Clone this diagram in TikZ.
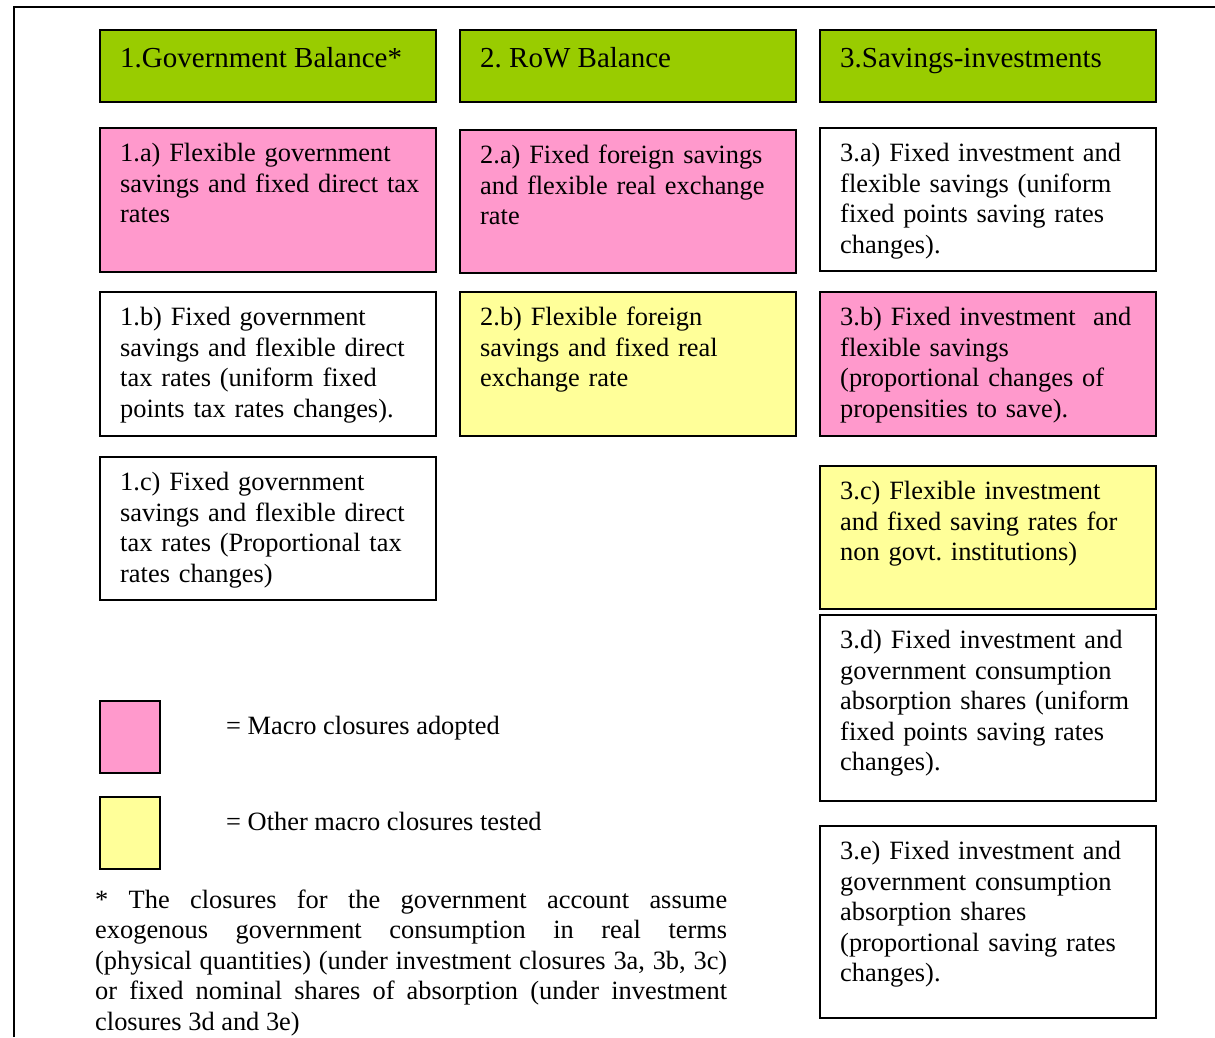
\documentclass[tikz,border=0pt]{standalone}
\usepackage{fontspec}
\setmainfont{Liberation Serif}
\frenchspacing
\definecolor{hdrgreen}{HTML}{99CC00}
\definecolor{adopted}{HTML}{FF99CC}
\definecolor{tested}{HTML}{FFFF99}
\tikzset{
  boxline/.style={draw=black, line width=1.6pt, inner sep=0pt, anchor=north west},
  cltext/.style={anchor=base west, inner sep=0pt, text width=330pt, align=left,
                 font=\fontsize{26.4}{30.5}\selectfont},
  plain/.style={anchor=base west, inner sep=0pt, font=\fontsize{26.4}{30.5}\selectfont},
  hdrtext/.style={anchor=base west, inner sep=0pt, font=\fontsize{29}{33}\selectfont}
}
% box: name, left, top, right, bottom, fill, text
\newcommand\clbox[7]{%
  \node[boxline, fill=#6, minimum width={(#4)-(#2)}, minimum height={(#5)-(#3)}] (#1) at (#2,#3) {};
  \node[cltext] (#1-t) at ([xshift=21pt,yshift=-34.5pt]#1.north west) {#7};
}
\begin{document}
\begin{tikzpicture}[x=1pt,y=-1pt]
\useasboundingbox (0,0) rectangle (1215,1037);
% outer frame (left and top edges)
\coordinate (fbl) at (14,1037);
\coordinate (ftl) at (14,7);
\coordinate (ftr) at (1215,7);
\draw[line width=1.6pt] (fbl) -- (ftl) -- (ftr);

% column headers
\node[boxline, fill=hdrgreen, minimum width=336pt, minimum height=72pt] (h1) at (99,29) {};
\node[boxline, fill=hdrgreen, minimum width=336pt, minimum height=72pt] (h2) at (459,29) {};
\node[boxline, fill=hdrgreen, minimum width=336pt, minimum height=72pt] (h3) at (819,29) {};
\node[hdrtext] (h1-t) at ([xshift=21pt,yshift=-38pt]h1.north west) {1.Government Balance*};
\node[hdrtext] (h2-t) at ([xshift=21pt,yshift=-38pt]h2.north west) {2. RoW Balance};
\node[hdrtext] (h3-t) at ([xshift=21pt,yshift=-38pt]h3.north west) {3.Savings-investments};

% government balance closures
\clbox{b1a}{99}{127}{435}{271}{adopted}{1.a) Flexible government\\savings and fixed direct tax\\rates}
\clbox{b1b}{99}{291}{435}{435}{white}{1.b) Fixed government\\savings and flexible direct\\tax rates (uniform fixed\\points tax rates changes).}
\clbox{b1c}{99}{456}{435}{599}{white}{1.c) Fixed government\\savings and flexible direct\\tax rates (Proportional tax\\rates changes)}

% rest of the world closures
\clbox{b2a}{459}{129}{795}{272}{adopted}{2.a) Fixed foreign savings\\and flexible real exchange\\rate}
\clbox{b2b}{459}{291}{795}{435}{tested}{2.b) Flexible foreign\\savings and fixed real\\exchange rate}

% savings-investment closures
\clbox{b3a}{819}{127}{1155}{270}{white}{3.a) Fixed investment and\\flexible savings (uniform\\fixed points saving rates\\changes).}
\clbox{b3b}{819}{291}{1155}{435}{adopted}{3.b) Fixed investment \ and\\flexible savings\\(proportional changes of\\propensities to save).}
\clbox{b3c}{819}{465}{1155}{608}{tested}{3.c) Flexible investment\\and fixed saving rates for\\non govt. institutions)}
\clbox{b3d}{819}{614}{1155}{800}{white}{3.d) Fixed investment and\\government consumption\\absorption shares (uniform\\fixed points saving rates\\changes).}
\clbox{b3e}{819}{825}{1155}{1017}{white}{3.e) Fixed investment and\\government consumption\\absorption shares\\(proportional saving rates\\changes).}

% legend
\node[boxline, fill=adopted, minimum width=60pt, minimum height=72pt] (lg1) at (99,700) {};
\node[boxline, fill=tested, minimum width=60pt, minimum height=72pt] (lg2) at (99,796) {};
\node[plain] (lg1-t) at (226,734) {= Macro closures adopted};
\node[plain] (lg2-t) at (226,830) {= Other macro closures tested};

% footnote
\node[anchor=base west, inner sep=0pt, text width=632pt, align=justify,
      font=\fontsize{26.4}{30.5}\selectfont] (note) at (95,908)
  {\hyphenpenalty=10000 \tolerance=10000 \emergencystretch=20pt
   * The closures for the government account assume\linebreak
   exogenous government consumption in real terms\linebreak
   (physical quantities) (under investment closures 3a, 3b, 3c)\linebreak
   or fixed nominal shares of absorption (under investment\linebreak
   closures 3d and 3e)};
\end{tikzpicture}
\end{document}
